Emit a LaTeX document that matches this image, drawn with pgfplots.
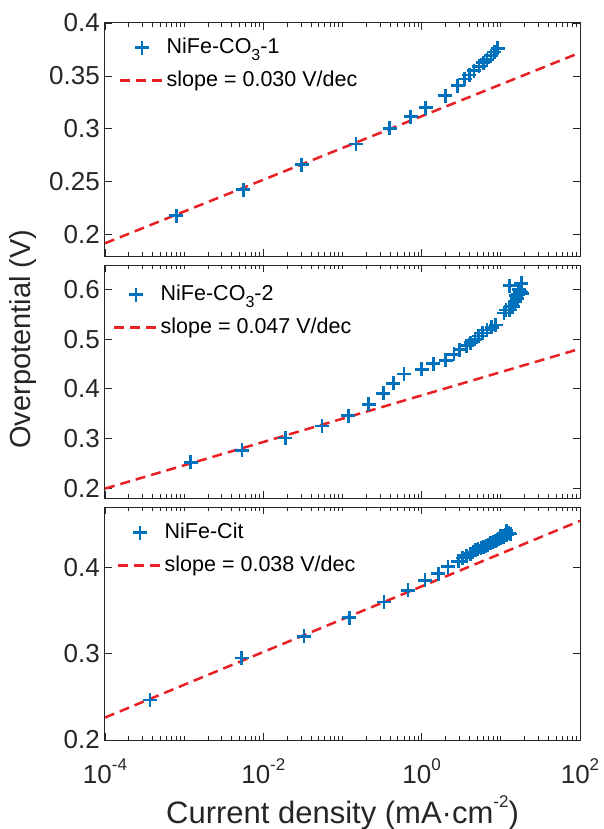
\documentclass[border=0pt]{standalone}
\usepackage{fontspec}
\setmainfont{Liberation Sans}
\usepackage{pgfplots}
\pgfplotsset{compat=1.18}

\definecolor{mblue}{RGB}{0,114,189}
\definecolor{mred}{RGB}{232,32,36}
\definecolor{axgray}{RGB}{38,38,38}

\newcommand{\tickfont}{\fontsize{26pt}{30pt}\selectfont}
\newcommand{\legfont}{\fontsize{21.5pt}{26pt}\selectfont}
\newcommand{\labfont}{\fontsize{31pt}{36pt}\selectfont}
\newcommand{\ylabfont}{\fontsize{29pt}{34pt}\selectfont}
\newcommand{\sptext}[1]{\raisebox{0.5em}{\fontsize{17pt}{17pt}\selectfont #1}}
\newcommand{\sbtext}[1]{\raisebox{-0.32em}{\fontsize{16pt}{16pt}\selectfont #1}}

% measured points and fitted Tafel lines
\tikzset{
  ptsstyle/.style={mark=+, mark size=7pt, color=mblue, line width=2.7pt},
  fitstyle/.style={color=mred, line width=2.5pt, dash pattern=on 10pt off 6pt},
}

\pgfplotsset{
  every axis/.append style={
    xmode=log, scale only axis, width=475pt, height=233pt,
    xmin=1e-4, xmax=1e2,
    axis line style={axgray, line width=1pt},
    tick style={axgray, line width=0.9pt},
    tick align=inside,
    xtick pos=both, ytick pos=both,
    xticklabel pos=lower, yticklabel pos=left,
    major tick length=7pt, minor tick length=4pt,
    xtick={1e-4,1e-2,1,1e2},
    minor xtick={2e-4,3e-4,4e-4,5e-4,6e-4,7e-4,8e-4,9e-4,1e-3,2e-3,3e-3,4e-3,5e-3,6e-3,7e-3,8e-3,9e-3,2e-2,3e-2,4e-2,5e-2,6e-2,7e-2,8e-2,9e-2,0.1,0.2,0.3,0.4,0.5,0.6,0.7,0.8,0.9,2,3,4,5,6,7,8,9,10,20,30,40,50,60,70,80,90},
    every tick label/.append style={font=\tickfont, text=axgray},
    yticklabel style={anchor=east, inner sep=0pt, xshift=-5pt},
    xticklabel style={anchor=base, inner sep=0pt, yshift=-43pt},
    legend cell align=left,
    legend style={draw=none, fill=none, font=\legfont,
      at={(axis description cs:0,1)}, anchor=north west,
      inner sep=0pt, row sep=8pt,
      nodes={inner sep=2pt, text height=16pt, text depth=5pt}},
  },
  legend image code/.code={%
    \draw[mark repeat=2,mark phase=2,#1] plot coordinates {(0pt,0pt) (21.5pt,0pt) (43pt,0pt)};},
}

\begin{document}
\begin{tikzpicture}
\path[use as bounding box] (-105pt,23pt) rectangle (498pt,-806pt);

% NiFe-CO3-1
\begin{axis}[at={(0pt,0pt)}, anchor=north west,
  ymin=0.18, ymax=0.4,
  ytick={0.2,0.25,0.3,0.35,0.4},
  yticklabels={0.2,0.25,0.3,0.35,0.4},
  xticklabels={},
  legend style={xshift=14pt, yshift=-12pt}]
\addplot[ptsstyle, only marks] coordinates {
  (8.0e-4,0.218) (5.6e-3,0.2425) (0.0304,0.2663) (0.148,0.2858)
  (0.396,0.3006) (0.724,0.3116) (1.12,0.320) (2.0,0.3314)
  (2.84,0.3409) (3.5,0.347) (4.0,0.351) (4.6,0.355) (5.3,0.359)
  (6.0,0.3625) (6.7,0.3655) (7.5,0.369) (8.3,0.3725) (9.1,0.376)
};
\addlegendentry{NiFe-CO\sbtext{3}-1}
\addplot[fitstyle, no marks] coordinates {(1e-4,0.192) (1e2,0.372)};
\addlegendentry{slope = 0.030 V/dec}
\end{axis}

% NiFe-CO3-2
\begin{axis}[at={(0pt,-242pt)}, anchor=north west,
  ymin=0.18, ymax=0.65,
  ytick={0.2,0.3,0.4,0.5,0.6},
  yticklabels={0.2,0.3,0.4,0.5,0.6},
  xticklabels={},
  ylabel={Overpotential (V)},
  ylabel style={font=\ylabfont, text=axgray,
    at={(axis description cs:-0.1726,0.682)}, anchor=center},
  legend style={xshift=8pt, yshift=-17pt}]
\addplot[ptsstyle, only marks] coordinates {
  (1.21e-3,0.252) (5.4e-3,0.276) (0.0189,0.301) (0.055,0.325)
  (0.119,0.346) (0.214,0.369) (0.327,0.391) (0.437,0.411)
  (0.596,0.430) (1.0,0.4395) (1.4,0.451) (2.02,0.458)
  (2.57,0.470) (3.03,0.479) (3.69,0.487) (4.14,0.493)
  (4.7,0.500) (5.25,0.507) (5.9,0.513) (6.7,0.519)
  (7.7,0.524) (8.6,0.529)
  (11.0,0.553) (11.6,0.5595) (12.9,0.5595) (13.5,0.566)
  (14.1,0.566) (15.0,0.576) (16.1,0.583) (16.5,0.590)
  (17.4,0.597) (17.8,0.595) (18.5,0.593) (12.9,0.608)
  (18.2,0.613) (16.8,0.600) (15.5,0.588)
};
\addlegendentry{NiFe-CO\sbtext{3}-2}
\addplot[fitstyle, no marks] coordinates {(1e-4,0.199) (1e2,0.481)};
\addlegendentry{slope = 0.047 V/dec}
\end{axis}

% NiFe-Cit
\begin{axis}[at={(0pt,-484pt)}, anchor=north west,
  ymin=0.2, ymax=0.47,
  ytick={0.2,0.3,0.4},
  yticklabels={0.2,0.3,0.4},
  xticklabels={10\sptext{-4},10\sptext{-2},10\sptext{0},10\sptext{2}},
  xlabel={Current density (mA·cm\sptext{-2})},
  xlabel style={font=\labfont, text=axgray, at={(axis description cs:0.5,0)},
    anchor=base, yshift=-83pt},
  legend style={xshift=12pt, yshift=-13pt}]
\addplot[ptsstyle, only marks] coordinates {
  (3.7e-4,0.2463) (5.3e-3,0.295) (0.0326,0.320) (0.1216,0.3417)
  (0.333,0.360) (0.67,0.3736) (1.1,0.385) (1.62,0.3927)
  (2.16,0.401) (2.89,0.407) (3.3,0.411) (3.69,0.4138)
  (4.1,0.416) (4.47,0.4176) (4.8,0.420) (5.15,0.4215)
  (5.6,0.423) (6.0,0.424) (6.5,0.425) (6.9,0.4264)
  (7.4,0.428) (7.96,0.429) (8.5,0.431) (8.97,0.4318)
  (9.4,0.433) (9.9,0.434) (10.4,0.435) (10.9,0.4356)
  (11.4,0.437) (12.0,0.438) (11.7,0.4425) (13.2,0.4387)
  (12.5,0.440)
};
\addlegendentry{NiFe-Cit}
\addplot[fitstyle, no marks] coordinates {(1e-4,0.226) (1e2,0.454)};
\addlegendentry{slope = 0.038 V/dec}
\end{axis}
\end{tikzpicture}
\end{document}
